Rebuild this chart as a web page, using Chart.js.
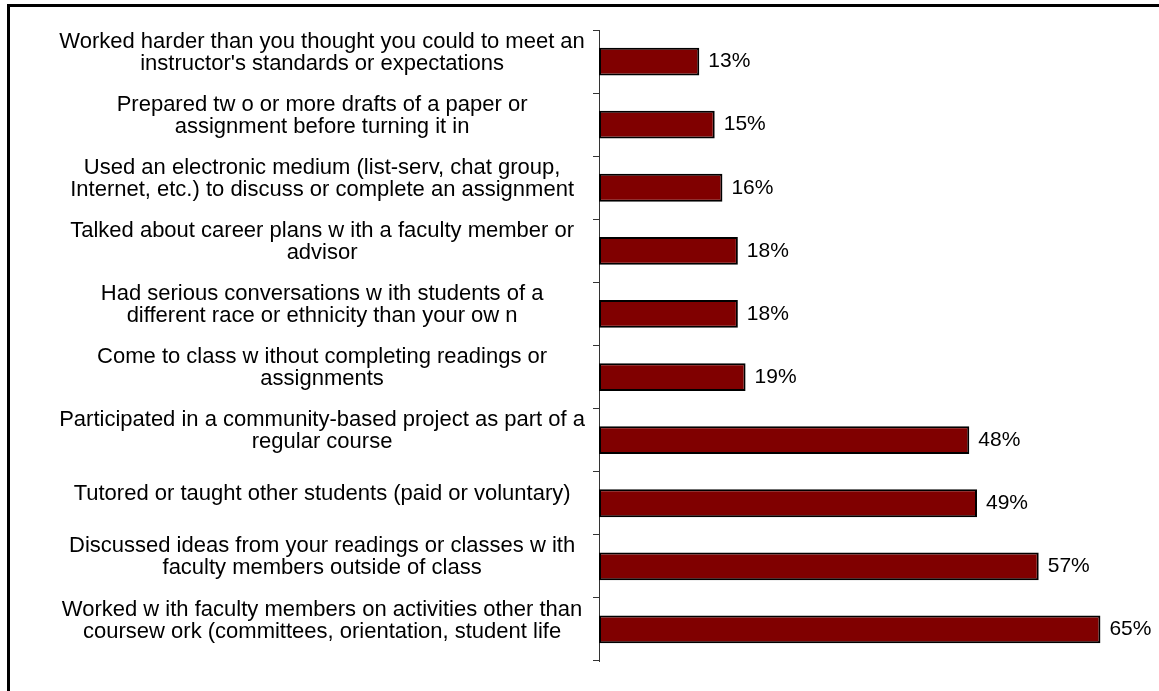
<!DOCTYPE html>
<html>
<head>
<meta charset="utf-8">
<script src="https://cdn.jsdelivr.net/npm/chart.js@4/dist/chart.umd.min.js"></script>
<style>
  html, body { margin: 0; padding: 0; background: #fff; }
  #wrap { position: absolute; left: 0; top: 0; width: 1159px; height: 691px; }
  #frame { position: absolute; left: 7px; top: 4px; right: -10px; bottom: -10px;
           border-top: 3px solid #000; border-left: 3px solid #000; pointer-events: none; }
</style>
</head>
<body>
<div id="wrap">
  <canvas id="chart" width="1159" height="691"></canvas>
  <div id="frame"></div>
</div>
<script>
const categories = [
  ["Worked harder than you thought you could to meet an", "instructor's standards or expectations"],
  ["Prepared tw o or more drafts of a paper or", "assignment before turning it in"],
  ["Used an electronic medium (list-serv, chat group,", "Internet, etc.) to discuss or complete an assignment"],
  ["Talked about career plans w ith a faculty member or", "advisor"],
  ["Had serious conversations w ith students of a", "different race or ethnicity than your ow n"],
  ["Come to class w ithout completing readings or", "assignments"],
  ["Participated in a community-based project as part of a", "regular course"],
  ["Tutored or taught other students (paid or voluntary)"],
  ["Discussed ideas from your readings or classes w ith", "faculty members outside of class"],
  ["Worked w ith faculty members on activities other than", "coursew ork (committees, orientation, student life"]
];
const percents = [13, 15, 16, 18, 18, 19, 48, 49, 57, 65];

const FONT = "'Liberation Sans', Arial, sans-serif";

// percentage text just past the end of each bar
const valueLabels = {
  id: 'valueLabels',
  afterDatasetsDraw(chart) {
    const ctx = chart.ctx;
    const meta = chart.getDatasetMeta(0);
    ctx.save();
    ctx.font = '21px ' + FONT;
    ctx.fillStyle = '#000';
    ctx.textAlign = 'left';
    ctx.textBaseline = 'middle';
    meta.data.forEach((bar, i) => {
      ctx.fillText(percents[i] + '%', bar.x + 9, bar.y);
    });
    ctx.restore();
  }
};

new Chart(document.getElementById('chart'), {
  type: 'bar',
  data: {
    labels: categories,
    datasets: [{
      data: percents,
      backgroundColor: '#800000',
      borderColor: '#000',
      borderWidth: 2,
      borderSkipped: false,
      categoryPercentage: 1,
      barPercentage: 0.44
    }]
  },
  options: {
    indexAxis: 'y',
    responsive: false,
    animation: false,
    layout: { padding: { top: 26, bottom: 16, right: 20, left: 0 } },
    plugins: { legend: { display: false }, tooltip: { enabled: false } },
    scales: {
      x: {
        display: false,
        min: 0,
        max: 70
      },
      y: {
        afterFit(scale) { scale.width = 599; },
        border: { display: true, color: '#333', width: 1 },
        grid: {
          drawOnChartArea: false,
          drawTicks: true,
          tickLength: 6,
          color: '#333',
          offset: true
        },
        ticks: {
          autoSkip: false,
          crossAlign: 'center',
          padding: 8,
          labelOffset: -9,
          color: '#000',
          font: { family: FONT, size: 22, lineHeight: 1.0 }
        }
      }
    }
  },
  plugins: [valueLabels]
});
</script>
</body>
</html>
